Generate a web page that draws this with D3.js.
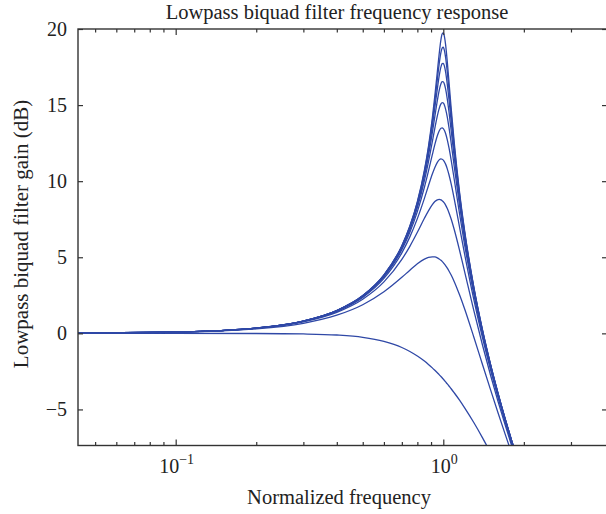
<!DOCTYPE html>
<html><head><meta charset="utf-8">
<script src="https://cdn.jsdelivr.net/npm/d3@7"></script>
<style>
body{margin:0;background:#fff}
svg{display:block}
text{font-family:"Liberation Serif","DejaVu Serif",serif;fill:#222}
</style>
</head><body><svg id="chart" width="606" height="514"></svg>
<script>
// ---- data ----
const freq = [0.043, 0.1, 0.2, 0.3, 0.4, 0.5, 0.6, 0.7, 0.75, 0.8, 0.85, 0.88, 0.91, 0.93, 0.95, 0.965, 0.98, 0.99, 1.0, 1.01, 1.02, 1.035, 1.05, 1.07, 1.1, 1.15, 1.2, 1.3, 1.4, 1.5, 1.6, 1.7, 1.8, 1.9, 2.0];
const qValues = [0.707, 1.707, 2.707, 3.707, 4.707, 5.707, 6.707, 7.707, 8.707, 9.707];
const gainQ07 = [0, 0, -0.01, -0.04, -0.11, -0.26, -0.53, -0.93, -1.19, -1.49, -1.82, -2.04, -2.27, -2.43, -2.59, -2.71, -2.84, -2.92, -3.01, -3.10, -3.19, -3.32, -3.46, -3.64, -3.92, -4.39, -4.88, -5.86, -6.85, -7.83, -8.78, -9.71, -10.61, -11.47, -12.30];
const gainQ17 = [0.01, 0.07, 0.29, 0.66, 1.19, 1.88, 2.73, 3.68, 4.15, 4.57, 4.88, 4.99, 5.03, 5.02, 4.96, 4.89, 4.80, 4.73, 4.65, 4.55, 4.45, 4.29, 4.10, 3.83, 3.38, 2.53, 1.63, -0.24, -2.03, -3.68, -5.20, -6.59, -7.87, -9.06, -10.16];
const gainQ27 = [0.02, 0.08, 0.33, 0.76, 1.38, 2.24, 3.38, 4.86, 5.72, 6.64, 7.56, 8.05, 8.46, 8.66, 8.77, 8.80, 8.77, 8.72, 8.65, 8.55, 8.43, 8.20, 7.93, 7.51, 6.79, 5.46, 4.09, 1.51, -0.75, -2.72, -4.45, -5.98, -7.37, -8.64, -9.80];
const gainQ37 = [0.02, 0.08, 0.34, 0.78, 1.44, 2.36, 3.61, 5.29, 6.34, 7.54, 8.87, 9.70, 10.47, 10.90, 11.24, 11.40, 11.46, 11.44, 11.38, 11.27, 11.12, 10.81, 10.42, 9.82, 8.79, 6.98, 5.25, 2.23, -0.27, -2.37, -4.18, -5.78, -7.20, -8.50, -9.68];
const gainQ47 = [0.02, 0.09, 0.35, 0.80, 1.47, 2.41, 3.71, 5.49, 6.64, 8.00, 9.60, 10.66, 11.74, 12.42, 12.99, 13.30, 13.48, 13.50, 13.45, 13.33, 13.13, 12.72, 12.20, 11.39, 10.06, 7.86, 5.87, 2.58, -0.04, -2.21, -4.06, -5.69, -7.13, -8.44, -9.63];
const gainQ57 = [0.02, 0.09, 0.35, 0.80, 1.48, 2.44, 3.76, 5.60, 6.81, 8.26, 10.04, 11.27, 12.60, 13.49, 14.29, 14.77, 15.08, 15.16, 15.13, 14.99, 14.74, 14.21, 13.53, 12.51, 10.90, 8.40, 6.24, 2.77, 0.08, -2.13, -4.00, -5.64, -7.09, -8.40, -9.60];
const gainQ67 = [0.02, 0.09, 0.35, 0.81, 1.49, 2.46, 3.79, 5.67, 6.91, 8.42, 10.31, 11.67, 13.19, 14.26, 15.29, 15.95, 16.40, 16.54, 16.53, 16.37, 16.06, 15.39, 14.56, 13.33, 11.49, 8.75, 6.47, 2.89, 0.15, -2.08, -3.96, -5.61, -7.07, -8.38, -9.59];
const gainQ77 = [0.02, 0.09, 0.35, 0.81, 1.50, 2.47, 3.81, 5.71, 6.97, 8.53, 10.50, 11.94, 13.62, 14.84, 16.07, 16.90, 17.51, 17.72, 17.74, 17.55, 17.18, 16.36, 15.37, 13.95, 11.91, 8.99, 6.62, 2.97, 0.20, -2.04, -3.94, -5.59, -7.05, -8.37, -9.58];
const gainQ87 = [0.02, 0.09, 0.35, 0.81, 1.50, 2.47, 3.83, 5.74, 7.02, 8.60, 10.63, 12.14, 13.93, 15.28, 16.69, 17.69, 18.47, 18.75, 18.80, 18.58, 18.14, 17.17, 16.01, 14.43, 12.21, 9.16, 6.72, 3.02, 0.23, -2.02, -3.92, -5.58, -7.04, -8.36, -9.57];
const gainQ97 = [0.02, 0.09, 0.35, 0.81, 1.50, 2.48, 3.84, 5.76, 7.05, 8.65, 10.72, 12.28, 14.16, 15.62, 17.19, 18.35, 19.30, 19.67, 19.74, 19.50, 18.97, 17.84, 16.54, 14.80, 12.45, 9.28, 6.80, 3.06, 0.26, -2.00, -3.91, -5.57, -7.04, -8.36, -9.56];

const yTicks = [-5, 0, 5, 10, 15, 20];
const xMajorTicks = [0.1, 1];
const xMajorLabels = [["10", "\u22121"], ["10", "0"]];
const xMinorTicks = [0.05, 0.06, 0.07, 0.08, 0.09, 0.2, 0.3, 0.4, 0.5, 0.6, 0.7, 0.8, 0.9, 2, 3];
const titleText = "Lowpass biquad filter frequency response";
const xLabelText = "Normalized frequency";
const yLabelText = "Lowpass biquad filter gain (dB)";

// ---- drawing ----
const series = [gainQ07, gainQ17, gainQ27, gainQ37, gainQ47, gainQ57, gainQ67, gainQ77, gainQ87, gainQ97];
const L = 78, R = 607, T = 29, B = 445.5;
const x = d3.scaleLog().domain([0.04315, 4.09]).range([L, R]);
const y = d3.scaleLinear().domain([-7.37, 20]).range([B, T]);
const svg = d3.select("#chart");
const axisColor = "#333";

svg.append("defs").append("clipPath").attr("id", "clip")
  .append("rect").attr("x", L).attr("y", T).attr("width", R - L).attr("height", B - T);

const line = d3.line().x(d => x(d[0])).y(d => y(d[1])).curve(d3.curveMonotoneX);
const g = svg.append("g").attr("clip-path", "url(#clip)");
series.forEach(s => {
  g.append("path")
    .datum(freq.map((f, i) => [f, s[i]]))
    .attr("d", line)
    .attr("fill", "none")
    .attr("stroke", "#2f48a6")
    .attr("stroke-width", 1.3);
});

function styleAxis(sel) {
  sel.select(".domain").remove();
  sel.selectAll(".tick line").attr("stroke", axisColor).attr("stroke-width", 1.2);
}
// left
svg.append("g").attr("transform", `translate(${L},0)`)
  .call(d3.axisLeft(y).tickValues(yTicks).tickSizeInner(-5).tickSizeOuter(0).tickPadding(11)
    .tickFormat(d => (d < 0 ? "\u2212" + Math.abs(d) : String(d))))
  .call(styleAxis)
  .call(s => s.selectAll(".tick text").attr("font-size", 20).attr("font-family", "Liberation Serif").attr("fill", "#222"));
// right
svg.append("g").attr("transform", `translate(${R},0)`)
  .call(d3.axisRight(y).tickValues(yTicks).tickSizeInner(-5).tickSizeOuter(0).tickFormat(""))
  .call(styleAxis);
// bottom major / minor
svg.append("g").attr("transform", `translate(0,${B})`)
  .call(d3.axisBottom(x).tickValues(xMajorTicks).tickSizeInner(-6).tickSizeOuter(0).tickFormat(""))
  .call(styleAxis);
svg.append("g").attr("transform", `translate(0,${B})`)
  .call(d3.axisBottom(x).tickValues(xMinorTicks).tickSizeInner(-3.5).tickSizeOuter(0).tickFormat(""))
  .call(styleAxis);
// top major / minor
svg.append("g").attr("transform", `translate(0,${T})`)
  .call(d3.axisTop(x).tickValues(xMajorTicks).tickSizeInner(-6).tickSizeOuter(0).tickFormat(""))
  .call(styleAxis);
svg.append("g").attr("transform", `translate(0,${T})`)
  .call(d3.axisTop(x).tickValues(xMinorTicks).tickSizeInner(-3.5).tickSizeOuter(0).tickFormat(""))
  .call(styleAxis);

// frame
svg.append("rect").attr("x", L).attr("y", T).attr("width", R - L).attr("height", B - T)
  .attr("fill", "none").attr("stroke", axisColor).attr("stroke-width", 1.4);

// x major labels with superscripts
xMajorTicks.forEach((t, i) => {
  const tx = svg.append("text").attr("x", x(t) + 1).attr("y", 473)
    .attr("text-anchor", "middle").attr("font-size", 20);
  tx.append("tspan").text(xMajorLabels[i][0]);
  tx.append("tspan").attr("dy", -9).attr("font-size", 14).text(xMajorLabels[i][1]);
});

// titles
svg.append("text").attr("x", 337).attr("y", 19).attr("text-anchor", "middle")
  .attr("font-size", 20.5).text(titleText);
svg.append("text").attr("x", 339).attr("y", 504).attr("text-anchor", "middle")
  .attr("font-size", 20.5).text(xLabelText);
svg.append("text").attr("transform", "translate(28,234) rotate(-90)").attr("text-anchor", "middle")
  .attr("font-size", 21).text(yLabelText);
</script>
</body></html>
